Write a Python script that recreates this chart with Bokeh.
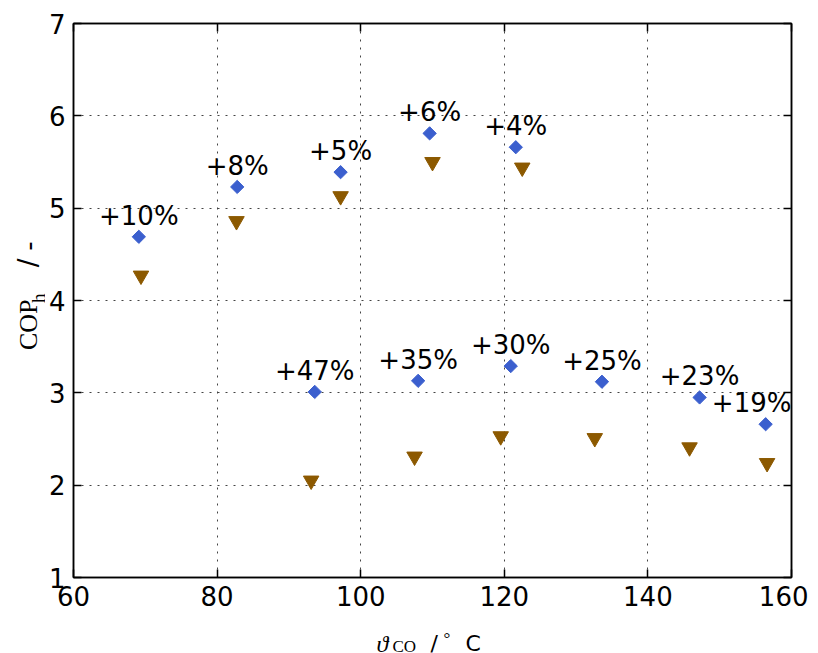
import math
from bokeh.plotting import figure
from bokeh.layouts import row, column
from bokeh.models import (Range1d, LinearAxis, FixedTicker, ColumnDataSource,
                          LabelSet, Label, Grid)
from bokeh.core.properties import value
from bokeh.embed import file_html
from bokeh.resources import INLINE

# ---- data ----
temp_improved = [69.1, 82.8, 97.2, 109.6, 121.6, 93.6, 108.0, 120.9, 133.6, 147.2, 156.4]
cop_improved = [4.69, 5.23, 5.39, 5.81, 5.66, 3.01, 3.13, 3.29, 3.12, 2.95, 2.66]
temp_base = [69.4, 82.7, 97.2, 110.0, 122.5, 93.1, 107.5, 119.5, 132.6, 145.8, 156.6]
cop_base = [4.27, 4.86, 5.13, 5.50, 5.44, 2.05, 2.31, 2.53, 2.51, 2.41, 2.24]
gain_labels = ["+10%", "+8%", "+5%", "+6%", "+4%", "+47%", "+35%", "+30%",
               "+25%", "+23%", "+19%"]
x_ticks = [60, 80, 100, 120, 140, 160]
y_ticks = [1, 2, 3, 4, 5, 6, 7]

SANS = "DejaVu Sans"
SERIF = "Liberation Serif"
FS = "26px"

# page layout (pixels)
YLAB_W = 45                 # strip for the y-axis title
FL, FT, FR, FB = 73, 23, 791, 577   # plot frame in the page
MAIN_BOTTOM = 50            # bottom axis panel (tick labels)
MAIN_H = FT + (FB - FT) + MAIN_BOTTOM
TOTAL_W = 808
XLAB_H = 653 - MAIN_H

p = figure(frame_width=FR - FL, frame_height=FB - FT,
           x_range=Range1d(60, 160), y_range=Range1d(1, 7),
           output_backend="svg", toolbar_location=None,
           min_border_left=FL - YLAB_W, min_border_right=TOTAL_W - FR,
           min_border_top=FT, min_border_bottom=MAIN_BOTTOM,
           x_axis_location=None, y_axis_location=None)
p.grid.visible = False
p.background_fill_color = "white"
p.border_fill_color = "white"
p.outline_line_color = "black"
p.outline_line_width = 1.5


def style_axis(ax, ticks, labels=True):
    ax.ticker = FixedTicker(ticks=ticks)
    ax.major_tick_in = 8
    ax.major_tick_out = 0
    ax.minor_tick_line_color = None
    ax.major_tick_line_color = "black"
    ax.major_tick_line_width = 1.5
    ax.axis_line_color = "black"
    ax.axis_line_width = 1.5
    ax.major_label_text_font = SANS
    ax.major_label_text_font_size = FS if labels else "0px"
    ax.major_label_text_color = "black" if labels else None
    ax.major_label_standoff = 9 if labels else 0


bottom = LinearAxis()
left = LinearAxis()
top = LinearAxis()
right = LinearAxis()
p.add_layout(bottom, "below")
p.add_layout(left, "left")
p.add_layout(top, "above")
p.add_layout(right, "right")
style_axis(bottom, x_ticks)
style_axis(left, y_ticks)
style_axis(top, x_ticks, labels=False)
style_axis(right, y_ticks, labels=False)
bottom.major_label_standoff = 8
left.major_label_standoff = 8

for dim, ticks in ((0, x_ticks), (1, y_ticks)):
    g = Grid(dimension=dim, ticker=FixedTicker(ticks=ticks))
    g.grid_line_color = "#444444"
    g.grid_line_dash = "2 6"
    g.grid_line_width = 1
    p.add_layout(g)

# last label is nudged left so that it stays inside the frame
label_dx = [0] * (len(gain_labels) - 1) + [-14]

src_base = ColumnDataSource(dict(x=temp_base, y=cop_base))
src_imp = ColumnDataSource(dict(x=temp_improved, y=cop_improved, t=gain_labels,
                                dx=label_dx))

p.scatter("x", "y", source=src_base, marker="inverted_triangle", size=15.5,
          fill_color="#8c5900", line_color="#8c5900")
p.scatter("x", "y", source=src_imp, marker="square", size=9.4, angle=math.pi / 4,
          fill_color="#3b5fce", line_color="#3b5fce")

labels = LabelSet(x="x", y="y", text="t", source=src_imp, y_offset=12,
                  x_offset="dx",
                  text_align="center", text_baseline="alphabetic",
                  text_font=value(SANS), text_font_size=value(FS),
                  text_color="black")
p.add_layout(labels)


def title_strip(w, h):
    f = figure(width=w, height=h, x_range=Range1d(0, w), y_range=Range1d(0, h),
               output_backend="svg", toolbar_location=None, title=None,
               min_border=0, min_border_left=0, min_border_right=0,
               min_border_top=0, min_border_bottom=0,
               x_axis_location=None, y_axis_location=None)
    f.grid.visible = False
    f.outline_line_color = None
    f.background_fill_color = "white"
    f.border_fill_color = "white"
    return f


def put(f, text, x, y, font, size, style="normal", angle=0.0,
        align="left", baseline="alphabetic"):
    f.add_layout(Label(x=x, y=y, text=text, text_font=font, text_font_size=size,
                       text_font_style=style, text_align=align,
                       text_baseline=baseline, angle=angle,
                       text_color="black"))


# y-axis title strip: page x 0..YLAB_W, page y 0..MAIN_H (y measured from bottom)
ylab = title_strip(YLAB_W, MAIN_H)
R = math.pi / 2
put(ylab, "COP", 28, MAIN_H - 341, SERIF, "26px", angle=R, align="center", baseline="middle")
put(ylab, "h", 38, MAIN_H - 311, SERIF, "19px", angle=R, align="center", baseline="middle")
put(ylab, "/", 27, MAIN_H - 271, SANS, FS, angle=R, align="center", baseline="middle")
put(ylab, "-", 27, MAIN_H - 252, SANS, FS, angle=R, align="center", baseline="middle")

# x-axis title strip below the plot (sized so the whole title stays visible)
xlab = title_strip(TOTAL_W, XLAB_H)
put(xlab, "ϑ", 376, 653 - 643, SERIF, "24px", "italic")
put(xlab, "CO", 392, 653 - 646, SERIF, "17px")
put(xlab, "/", 430, 653 - 643, SANS, "22px")
put(xlab, "°", 443, 653 - 638, SERIF, "17px")
put(xlab, "C", 465, 653 - 643, SANS, "22px")

layout = column(row(ylab, p, spacing=0), xlab, spacing=0)

open("out.html", "w").write(file_html(layout, INLINE))
